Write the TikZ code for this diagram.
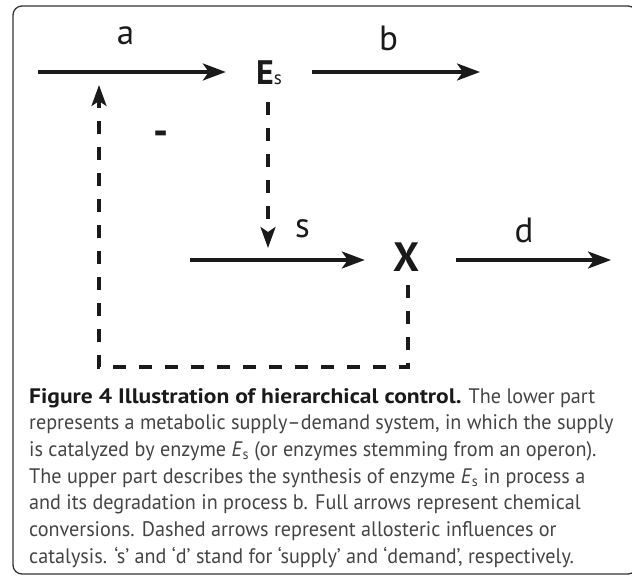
\documentclass[tikz,border=0pt]{standalone}
\usepackage{fontspec}
\setmainfont{PT Sans}
\newfontfamily\capfont[FakeStretch=0.96]{PT Sans}
\newfontfamily\capboldfont[FakeStretch=1.12]{PT Sans Bold}
\usetikzlibrary{arrows.meta}
\definecolor{ink}{HTML}{1A1A1A}
\definecolor{captext}{HTML}{444444}
\definecolor{framecol}{HTML}{333333}
\begin{document}
\begin{tikzpicture}[x=1pt,y=-1pt,
  solidarrow/.style={line width=3.4pt, draw=ink, -{Stealth[length=23pt,width=17pt,inset=6pt]}},
  dasharrow/.style={line width=3.2pt, draw=ink, dash pattern=on 13pt off 13pt, -{Stealth[length=21pt,width=15pt,inset=5pt]}},
  lbl/.style={font=\fontsize{35}{40}\selectfont, text=ink, inner sep=0pt, anchor=base},
  species/.style={inner sep=0pt, text=ink},
  captionline/.style={font=\capfont\fontsize{21}{25}\selectfont, text=captext, inner sep=0pt, anchor=base west},
]
\useasboundingbox (0,0) rectangle (632,577);
\draw[draw=framecol, line width=1.3pt, rounded corners=9pt] (13,6) rectangle (637,574);

% species nodes
\node[species, minimum width=86pt, minimum height=60pt, text height=26pt, text depth=0pt] (Es) at (269,72)
  {{\fontsize{34}{40}\selectfont\bfseries E}{\fontsize{19}{20}\selectfont s}};
\node[species, minimum width=82pt, minimum height=50pt, text height=24pt, text depth=0pt,
  font=\fontsize{41}{46}\selectfont\bfseries] (X) at (406,260) {X};

% free ends
\coordinate (a0) at (38,72);
\coordinate (b1) at (480,72);
\coordinate (s0) at (190,260);
\coordinate (d1) at (611,260);
\coordinate (sTip) at (268,248);
\coordinate (rb) at (408,367);
\coordinate (lbc) at (99,367);
\coordinate (aTip) at (99,85);

% chemical conversions
\draw[solidarrow] (a0) -- (a0 -| Es.west);
\draw[solidarrow] (Es.east |- b1) -- (b1);
\draw[solidarrow] (s0) -- (s0 -| X.west);
\draw[solidarrow] ([xshift=9pt]X.east |- d1) -- (d1);

% influences
\draw[dasharrow] (Es.south -| sTip) -- (sTip);
\draw[dasharrow] ([xshift=2pt]X.south) -- (rb) -- (lbc) -- (aTip);

% labels
\node[lbl] (la) at (125.5,45) {a};
\node[lbl] (lb) at (388.5,51) {b};
\node[lbl] (ls) at (302.5,238) {s};
\node[lbl] (ld) at (524,243) {d};
\node[lbl, font=\fontsize{42}{46}\selectfont\bfseries] (minus) at (161,146) {-};

% caption
\node[captionline] (c1) at (29,403) {{\capboldfont\color{ink}Figure 4 Illustration of hierarchical control.} The lower part};
\node[captionline] (c2) at (29,429.7) {represents a metabolic supply–demand system, in which the supply};
\node[captionline] (c3) at (29,456.3) {is catalyzed by enzyme \textit{E}\textsubscript{s} (or enzymes stemming from an operon).};
\node[captionline] (c4) at (29,483) {The upper part describes the synthesis of enzyme \textit{E}\textsubscript{s} in process a};
\node[captionline] (c5) at (29,509.7) {and its degradation in process b. Full arrows represent chemical};
\node[captionline] (c6) at (29,536.3) {conversions. Dashed arrows represent allosteric influences or};
\node[captionline] (c7) at (29,563) {catalysis. ‘s’ and ‘d’ stand for ‘supply’ and ‘demand’, respectively.};
\end{tikzpicture}
\end{document}
